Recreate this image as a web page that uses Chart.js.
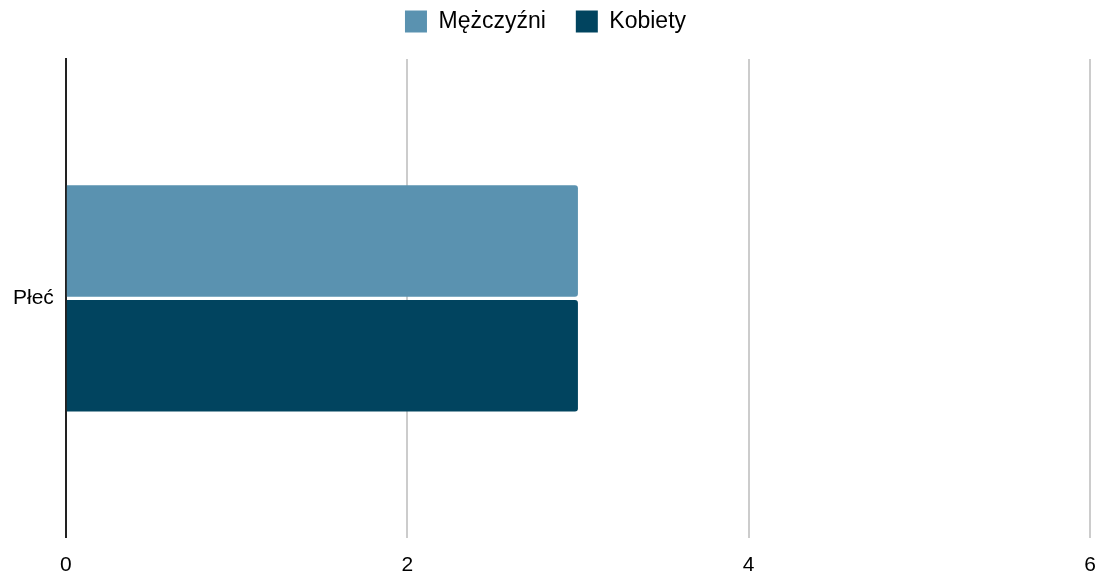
<!DOCTYPE html>
<html lang="pl">
<head>
    <meta charset="UTF-8">
    <title>Płeć</title>
    <style>
        * { margin: 0; padding: 0; box-sizing: border-box; }
        body { width: 1106px; height: 581px; background: #fff; }
        .wrap { position: relative; width: 1106px; height: 581px; }
    </style>
</head>
<body>
    <div class="wrap">
        <canvas id="chart" width="1106" height="581"></canvas>
    </div>

    <script src="https://cdn.jsdelivr.net/npm/chart.js@4/dist/chart.umd.min.js"></script>
    <script>
        const categories = ["Płeć"];
        const seriesNames = ["Mężczyźni", "Kobiety"];
        const menValues = [3];
        const womenValues = [3];
        const xTicks = [0, 2, 4, 6];
        const colors = ["#5a92b0", "#01445f"];

        Chart.defaults.font.family = "'Liberation Sans', Arial, sans-serif";
        Chart.defaults.font.size = 21;
        Chart.defaults.color = "#000";

        // extra room under the legend
        const legendGap = {
            id: "legendGap",
            beforeLayout(chart) {
                const legend = chart.legend;
                if (!legend || legend._gapPatched) return;
                const fit = legend.fit;
                legend.fit = function () {
                    fit.call(this);
                    this.height += 16;
                };
                legend._gapPatched = true;
            },
        };

        new Chart(document.getElementById("chart"), {
            type: "bar",
            plugins: [legendGap],
            data: {
                labels: categories,
                datasets: [
                    {
                        label: seriesNames[0],
                        data: menValues,
                        backgroundColor: colors[0],
                        borderRadius: { topRight: 3, bottomRight: 3 },
                        borderSkipped: false,
                    },
                    {
                        label: seriesNames[1],
                        data: womenValues,
                        backgroundColor: colors[1],
                        borderRadius: { topRight: 3, bottomRight: 3 },
                        borderSkipped: false,
                    },
                ],
            },
            options: {
                indexAxis: "y",
                responsive: false,
                animation: false,
                categoryPercentage: 0.48,
                barPercentage: 0.97,
                layout: { padding: { left: 1, right: 16, top: -20, bottom: -12 } },
                plugins: {
                    tooltip: { enabled: false },
                    legend: {
                        position: "top",
                        labels: {
                            boxWidth: 22,
                            boxHeight: 22,
                            padding: 30,
                            font: { size: 23 },
                        },
                    },
                },
                scales: {
                    x: {
                        min: 0,
                        max: 6,
                        afterBuildTicks: (axis) => {
                            axis.ticks = xTicks.map(v => ({ value: v }));
                        },
                        afterFit: (axis) => {
                            axis.paddingRight = 0;
                        },
                        grid: {
                            color: (ctx) => ctx.tick && ctx.tick.value === 0 ? "rgba(0,0,0,0)" : "#cccccc",
                            lineWidth: 2,
                            drawTicks: false,
                        },
                        border: { display: false },
                        ticks: { padding: 15, font: { size: 21 } },
                    },
                    y: {
                        grid: { display: false, drawTicks: false },
                        border: { display: true, color: "#222", width: 2 },
                        ticks: { padding: 12, font: { size: 21 } },
                    },
                },
            },
        });
    </script>
</body>
</html>
